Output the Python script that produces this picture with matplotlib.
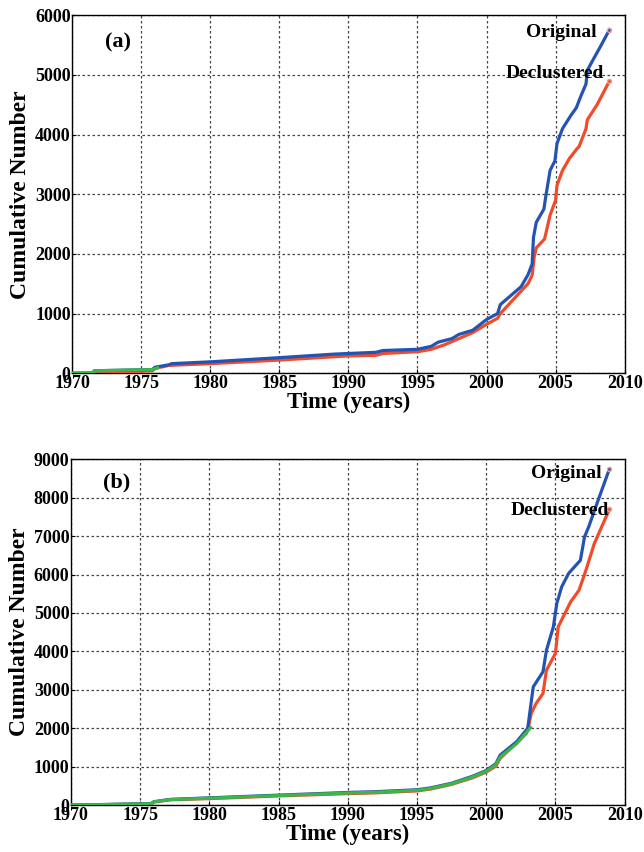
import matplotlib.pyplot as plt


# panel (a): years / cumulative counts
A_BLUE_T = [1970.0, 1971.5, 1971.6, 1975.8, 1976.0, 1977.0, 1977.2, 1980.0, 1985.0, 1989.0,
            1992.0, 1992.5, 1995.0, 1996.0, 1996.5, 1997.5, 1998.0, 1999.0, 2000.0, 2000.8,
            2001.0, 2002.0, 2002.5, 2003.0, 2003.3, 2003.4, 2003.6, 2004.15, 2004.3, 2004.6,
            2004.95, 2005.1, 2005.5, 2006.1, 2006.5, 2006.8, 2007.2, 2007.3, 2007.7, 2008.3, 2008.9]
A_BLUE_N = [0, 5, 40, 60, 100, 140, 160, 190, 260, 320,
            350, 380, 400, 450, 520, 580, 650, 720, 900, 1000,
            1150, 1350, 1450, 1650, 1830, 2280, 2530, 2750, 2980, 3400,
            3560, 3850, 4100, 4320, 4450, 4630, 4850, 5080, 5250, 5500, 5760]

A_RED_T = [1971.6, 1975.8, 1976.0, 1977.0, 1980.0, 1985.0, 1990.0, 1992.0, 1992.5, 1995.0,
           1996.0, 1997.0, 1998.0, 1999.0, 2000.0, 2000.8, 2001.0, 2002.0, 2003.0, 2003.3,
           2003.45, 2003.6, 2004.2, 2004.6, 2005.0, 2005.1, 2005.5, 2006.0, 2006.5, 2006.7,
           2007.2, 2007.3, 2008.0, 2008.9]
A_RED_N = [5, 40, 80, 130, 160, 220, 290, 300, 330, 360,
           400, 480, 580, 680, 820, 920, 1000, 1250, 1500, 1640,
           1950, 2100, 2250, 2650, 2900, 3150, 3400, 3600, 3750, 3800,
           4100, 4250, 4500, 4900]

A_GREEN_T = [1970.0, 1971.5, 1971.6, 1975.8, 1976.2]
A_GREEN_N = [0, 5, 40, 60, 90]

# panel (b)
B_BLUE_T = [1970.0, 1975.8, 1976.0, 1977.2, 1980.0, 1985.0, 1990.0, 1992.0, 1995.0, 1996.0,
            1997.5, 1999.0, 2000.0, 2000.7, 2001.0, 2002.2, 2003.0, 2003.3, 2003.4, 2004.1,
            2004.35, 2004.85, 2005.1, 2005.45, 2005.95, 2006.8, 2007.1, 2007.4, 2008.0, 2008.9]
B_BLUE_N = [0, 40, 90, 150, 190, 260, 330, 350, 400, 450,
            570, 750, 900, 1080, 1300, 1650, 2000, 2820, 3080, 3470,
            4030, 4640, 5250, 5680, 6030, 6370, 6980, 7240, 7850, 8750]

B_RED_T = [1970.0, 1975.8, 1976.0, 1977.2, 1980.0, 1985.0, 1990.0, 1992.0, 1995.0, 1996.0,
           1997.5, 1999.0, 2000.0, 2000.7, 2001.0, 2002.9, 2003.1, 2003.25, 2003.6, 2004.1,
           2004.35, 2005.0, 2005.2, 2006.1, 2006.7, 2007.2, 2007.8, 2008.9]
B_RED_N = [0, 30, 80, 140, 170, 240, 300, 320, 370, 420,
           540, 710, 860, 1015, 1215, 1865, 2125, 2385, 2645, 2905,
           3510, 3950, 4640, 5290, 5590, 6110, 6800, 7700]

B_GREEN_T = [1970.0, 1975.8, 1976.0, 1977.2, 1980.0, 1985.0, 1990.0, 1992.0, 1995.0, 1996.0,
             1997.5, 1999.0, 2000.0, 2000.7, 2001.0, 2002.2, 2003.0, 2003.2]
B_GREEN_N = [0, 35, 85, 145, 180, 250, 315, 335, 385, 435,
             555, 730, 880, 1050, 1250, 1600, 1930, 2020]

X_TICKS = [1970, 1975, 1980, 1985, 1990, 1995, 2000, 2005, 2010]

BLUE = "#2553b3"
RED = "#f04b2a"
GREEN = "#3cb54a"


def draw_panel(ax, blue, red, green, ymax, ystep, tag, lab_o, lab_d):
    ax.plot(red[0], red[1], color=RED, lw=2.3, zorder=3)
    ax.plot(blue[0], blue[1], color=BLUE, lw=2.3, zorder=4)
    ax.plot(green[0], green[1], color=GREEN, lw=2.3, zorder=5)
    ax.plot(blue[0][-1], blue[1][-1], "o", ms=3, mfc="none", mec="#f4a090", zorder=6)
    ax.plot(red[0][-1], red[1][-1], "o", ms=3, mfc="none", mec="#f4a090", zorder=6)

    ax.set_xlim(1970, 2010)
    ax.set_ylim(0, ymax)
    ax.set_xticks(X_TICKS)
    ax.set_yticks(range(0, ymax + 1, ystep))
    ax.grid(True, color="#444444", linestyle=(0, (2, 2)), linewidth=0.9)
    ax.set_axisbelow(True)
    ax.tick_params(direction="in", length=3, labelsize=13, pad=1)
    for lbl in ax.get_xticklabels() + ax.get_yticklabels():
        lbl.set_fontweight("bold")
    for sp in ax.spines.values():
        sp.set_linewidth(1.0)

    ax.set_xlabel("Time (years)", fontsize=16.5, fontweight="bold", labelpad=0)
    ax.set_ylabel("Cumulative Number", fontsize=17, fontweight="bold", labelpad=3)

    ax.text(tag[0], tag[1], tag[2], fontsize=16, fontweight="bold", ha="left", va="center")
    ax.text(lab_o[0], lab_o[1], "Original", fontsize=14, fontweight="bold", ha="right", va="center", zorder=7)
    ax.text(lab_d[0], lab_d[1], "Declustered", fontsize=14, fontweight="bold", ha="right", va="center", zorder=7)


def main() -> None:
    plt.rcParams["font.family"] = ["Liberation Serif", "DejaVu Serif"]

    fig = plt.figure(figsize=(6.44, 8.52), dpi=100)
    ax_a = fig.add_axes([0.112, 0.562, 0.858, 0.420])
    ax_b = fig.add_axes([0.110, 0.055, 0.860, 0.406])

    draw_panel(ax_a, (A_BLUE_T, A_BLUE_N), (A_RED_T, A_RED_N), (A_GREEN_T, A_GREEN_N),
               6000, 1000, (1972.4, 5550, "(a)"), (2008.0, 5720), (2008.5, 5030))
    draw_panel(ax_b, (B_BLUE_T, B_BLUE_N), (B_RED_T, B_RED_N), (B_GREEN_T, B_GREEN_N),
               9000, 1000, (1972.3, 8400, "(b)"), (2008.3, 8640), (2008.85, 7670))

    fig.savefig("out.png", dpi=100)


if __name__ == "__main__":
    main()
